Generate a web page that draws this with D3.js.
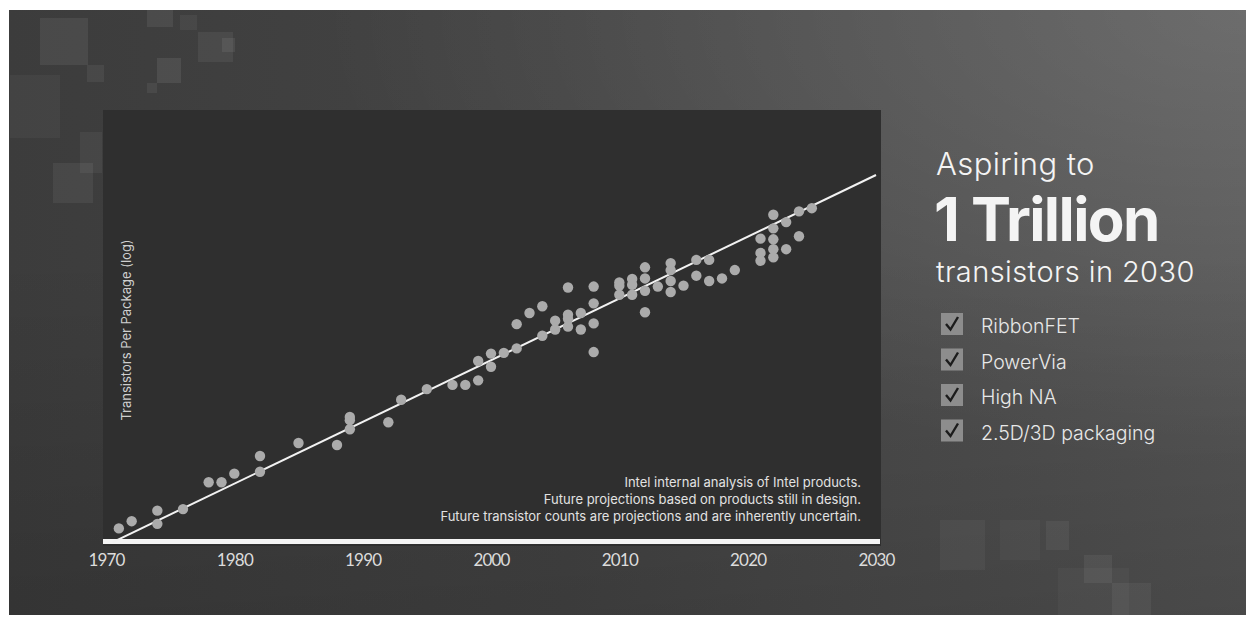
<!DOCTYPE html>
<html>
<head>
<meta charset="utf-8">
<script src="https://cdn.jsdelivr.net/npm/d3@7"></script>
<style>
  html, body { margin: 0; padding: 0; background: #fff; }
  svg { display: block; font-family: Inter, "Noto Sans", sans-serif; }
</style>
</head>
<body>
<svg id="chart" width="1246" height="618"></svg>
<script>
// product year and transistors per package
const chipYears = [
  1971, 1972, 1974, 1974, 1976, 1978, 1979, 1980, 1982, 1982,
  1985, 1988, 1989, 1989, 1989, 1992, 1993, 1995, 1997, 1998,
  1999, 1999, 2000, 2000, 2001, 2002, 2002, 2003, 2004, 2004,
  2005, 2005, 2006, 2006, 2006, 2006, 2007, 2007, 2008, 2008,
  2008, 2008, 2010, 2010, 2010, 2011, 2011, 2011, 2012, 2012,
  2012, 2012, 2013, 2014, 2014, 2014, 2014, 2015, 2016, 2016,
  2017, 2017, 2018, 2019, 2021, 2021, 2021, 2022, 2022, 2022,
  2022, 2022, 2023, 2023, 2024, 2024, 2025
];
const chipCounts = [
  2.4e3, 3.6e3, 6.5e3, 3.1e3, 7.1e3, 3.2e4, 3.2e4, 5.2e4, 1.4e5, 5.8e4,
  2.9e5, 2.6e5, 1.26e6, 1.05e6, 6.3e5, 9.3e5, 3.3e6, 6.0e6, 7.6e6, 7.6e6,
  9.8e6, 2.9e7, 2.1e7, 4.4e7, 4.6e7, 5.9e7, 2.3e8, 4.3e8, 6.3e8, 1.2e8,
  2.8e8, 1.7e8, 1.8e9, 3.9e8, 3.1e8, 2.0e8, 4.3e8, 1.7e8, 1.9e9, 7.4e8,
  2.4e8, 4.8e7, 2.0e9, 2.4e9, 1.2e9, 2.9e9, 2.1e9, 1.2e9, 3.0e9, 5.6e9,
  1.5e9, 4.5e8, 1.9e9, 4.8e9, 7.1e9, 2.6e9, 1.4e9, 2.0e9, 8.5e9, 3.5e9,
  8.5e9, 2.6e9, 3.0e9, 4.8e9, 2.8e10, 1.26e10, 8.1e9, 1.07e11, 5.0e10, 2.7e10,
  1.55e10, 9.8e9, 7.1e10, 1.55e10, 1.3e11, 3.2e10, 1.55e11
];
// trend line: doubling every two years up to 1 trillion in 2030
const trendYears = [1970.5, 2030];
const trendCounts = [1.1e3, 1e12];

const xTicks = [1970, 1980, 1990, 2000, 2010, 2020, 2030];
const yLabel = "Transistors Per Package (log)";
const notes = [
  "Intel internal analysis of Intel products.",
  "Future projections based on products still in design.",
  "Future transistor counts are projections and are inherently uncertain."
];
const headline = ["Aspiring to", "1 Trillion", "transistors in 2030"];
const checklist = ["RibbonFET", "PowerVia", "High NA", "2.5D/3D packaging"];

const svg = d3.select("#chart");
const defs = svg.append("defs");

// background
const bg = defs.append("linearGradient").attr("id", "bg")
  .attr("x1", 0).attr("y1", 0).attr("x2", 1).attr("y2", 0);
bg.append("stop").attr("offset", "0%").attr("stop-color", "#3c3c3c");
bg.append("stop").attr("offset", "45%").attr("stop-color", "#444");
bg.append("stop").attr("offset", "100%").attr("stop-color", "#555");
const glow = defs.append("radialGradient").attr("id", "glow")
  .attr("cx", 1).attr("cy", 0).attr("r", 0.75);
glow.append("stop").attr("offset", "0%").attr("stop-color", "#fff").attr("stop-opacity", 0.14);
glow.append("stop").attr("offset", "100%").attr("stop-color", "#fff").attr("stop-opacity", 0);
const shade = defs.append("linearGradient").attr("id", "shade")
  .attr("x1", 0).attr("y1", 0).attr("x2", 0).attr("y2", 1);
shade.append("stop").attr("offset", "40%").attr("stop-color", "#000").attr("stop-opacity", 0);
shade.append("stop").attr("offset", "100%").attr("stop-color", "#000").attr("stop-opacity", 0.14);

["url(#bg)", "url(#glow)", "url(#shade)"].forEach(f => {
  svg.append("rect").attr("x", 9).attr("y", 10).attr("width", 1237).attr("height", 605).attr("fill", f);
});

// decorative squares
const deco = [
  [40, 18, 48, 47, 0.07], [87, 65, 17, 17, 0.06], [147, 10, 26, 17, 0.07], [157, 58, 24, 25, 0.08],
  [198, 32, 35, 30, 0.06], [222, 38, 13, 14, 0.07], [180, 15, 17, 15, 0.05], [147, 83, 10, 10, 0.06],
  [10, 75, 50, 63, 0.04], [53, 163, 40, 40, 0.06], [80, 132, 22, 41, 0.05],
  [1046, 521, 23, 29, 0.05], [1084, 555, 28, 28, 0.06], [1112, 583, 39, 32, 0.05], [1058, 568, 71, 47, 0.03],
  [940, 520, 45, 50, 0.04], [1000, 520, 40, 40, 0.03]
];
svg.append("g").selectAll("rect").data(deco).join("rect")
  .attr("x", d => d[0]).attr("y", d => d[1]).attr("width", d => d[2]).attr("height", d => d[3])
  .attr("fill", "#fff").attr("fill-opacity", d => d[4]);

// chart panel
const panel = { left: 103, right: 881, top: 110, bottom: 546 };
svg.append("rect")
  .attr("x", panel.left).attr("y", panel.top)
  .attr("width", panel.right - panel.left).attr("height", panel.bottom - panel.top)
  .attr("fill", "#2f2f2f");

const x = d3.scaleLinear().domain([1970, 2030]).range([106, 876]);
const y = d3.scaleLog().domain([1e3, 1e12]).range([544, 175]);

// white baseline
svg.append("rect").attr("x", panel.left).attr("y", 539)
  .attr("width", panel.right - panel.left - 1).attr("height", 5).attr("fill", "#f4f4f4");

// x axis labels
const xAxis = svg.append("g").attr("transform", "translate(0,551)")
  .call(d3.axisBottom(x).tickValues(xTicks).tickFormat(d3.format("d")).tickSize(0));
xAxis.select(".domain").remove();
xAxis.selectAll("text")
  .attr("fill", "#dcdcdc").attr("font-size", 17).attr("font-family", "Lato, Inter, sans-serif")
  .attr("letter-spacing", -0.8);

// y axis title
svg.append("text")
  .attr("transform", "translate(131,330) rotate(-90)")
  .attr("text-anchor", "middle").attr("fill", "#cfcfcf").attr("font-size", 13)
  .text(yLabel);

// trend line
const trend = trendYears.map((yr, i) => ({ year: yr, count: trendCounts[i] }));
svg.append("path").datum(trend)
  .attr("d", d3.line().x(d => x(d.year)).y(d => y(d.count)))
  .attr("stroke", "#f2f2f2").attr("stroke-width", 2).attr("fill", "none");

// products
const chips = chipYears.map((yr, i) => ({ year: yr, count: chipCounts[i] }));
svg.append("g").selectAll("circle").data(chips).join("circle")
  .attr("cx", d => x(d.year)).attr("cy", d => y(d.count)).attr("r", 5.2)
  .attr("fill", "#ababab");

// notes
svg.append("g").selectAll("text").data(notes).join("text")
  .attr("x", 861).attr("y", (d, i) => 487 + i * 17)
  .attr("text-anchor", "end").attr("fill", "#e2e2e2").attr("font-size", 13)
  .text(d => d);

// right side headline
const head = svg.append("g").attr("fill", "#f4f4f4");
head.append("text").attr("x", 936).attr("y", 175).attr("font-size", 31).attr("font-weight", 300)
  .attr("letter-spacing", 0.4).text(headline[0]);
head.append("text").attr("x", 934).attr("y", 241).attr("font-size", 60).attr("font-weight", 700)
  .attr("letter-spacing", -1.6).text(headline[1]);
head.append("text").attr("x", 936).attr("y", 282).attr("font-size", 29).attr("font-weight", 300)
  .attr("letter-spacing", 0.4).text(headline[2]);

// checklist
const items = svg.append("g").selectAll("g").data(checklist).join("g")
  .attr("transform", (d, i) => `translate(941,${313 + i * 35.5})`);
items.append("rect").attr("width", 22).attr("height", 22).attr("fill", "#8d8d8d");
items.append("path").attr("d", "M5,11 L9.5,16.5 L17,4")
  .attr("fill", "none").attr("stroke", "#1c1c1c").attr("stroke-width", 2.4);
items.append("text").attr("x", 40).attr("y", 20).attr("font-size", 19.5).attr("font-weight", 300)
  .attr("fill", "#e8e8e8").text(d => d);
</script>
</body>
</html>
